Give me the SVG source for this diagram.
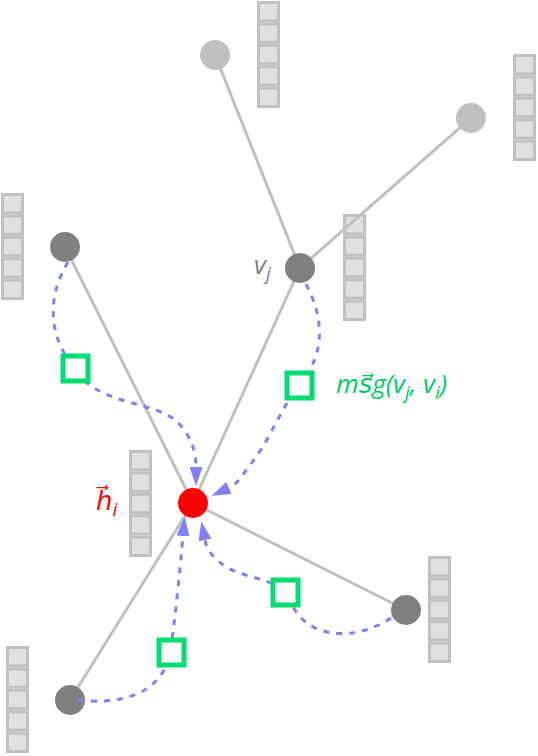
<svg xmlns="http://www.w3.org/2000/svg" width="538" height="756" viewBox="0 0 538 756">
<style>
.cell{fill:#e0e0e0;stroke:#c0c0c0;stroke-width:3}
.edge{stroke:#c0c0c0;stroke-width:3;fill:none}
.msg{stroke:#8080ff;stroke-width:3;fill:none;stroke-dasharray:6 7;marker-end:url(#ah)}
.sq{fill:#ffffff;stroke:#00dd70;stroke-width:5}
.far{fill:#c0c0c0}
.near{fill:#808080}
.lbl{font-family:"Open Sans","DejaVu Sans",sans-serif;font-style:italic;font-size:26px}
.sub{font-size:19px}
</style>
<defs>
<marker id="ah" markerUnits="userSpaceOnUse" viewBox="0 0 19 13" refX="0" refY="6.5" markerWidth="19" markerHeight="13" orient="auto">
<path d="M0,0 L19,6.5 L0,13 z" fill="#8080ff"/>
</marker>
<g id="vec">
<rect class="cell" x="1.5" y="1.5" width="20" height="18.4"/>
<rect class="cell" x="1.5" y="22.9" width="20" height="18.4"/>
<rect class="cell" x="1.5" y="44.3" width="20" height="18.4"/>
<rect class="cell" x="1.5" y="65.7" width="20" height="18.4"/>
<rect class="cell" x="1.5" y="87.1" width="20" height="18.4"/>
</g>
</defs>
<g id="vectors">
<use href="#vec" x="257" y="1"/>
<use href="#vec" x="513" y="54"/>
<use href="#vec" x="343" y="214"/>
<use href="#vec" x="1" y="193"/>
<use href="#vec" x="129" y="450"/>
<use href="#vec" x="428" y="556"/>
<use href="#vec" x="6" y="646"/>
</g>
<g id="connectors">
<line class="edge" x1="300" y1="268" x2="215" y2="55"/>
<line class="edge" x1="300" y1="268" x2="471" y2="118"/>
<line class="edge" x1="193" y1="503" x2="300" y2="268"/>
<line class="edge" x1="193" y1="503" x2="65" y2="247"/>
<line class="edge" x1="193" y1="503" x2="406" y2="610"/>
<line class="edge" x1="193" y1="503" x2="70" y2="700"/>
</g>
<g id="node-top"><circle class="far" cx="215" cy="55" r="15"/></g>
<g id="node-right"><circle class="far" cx="471" cy="118" r="15"/></g>
<g id="node-vj"><circle class="near" cx="300" cy="268" r="15"/><text class="lbl" x="254" y="274" fill="#808080">v<tspan class="sub" dy="6">j</tspan></text></g>
<g id="node-left"><circle class="near" cx="65" cy="247" r="15"/></g>
<g id="node-br"><circle class="near" cx="406" cy="610" r="15"/></g>
<g id="node-bl"><circle class="near" cx="70" cy="700" r="15"/></g>
<g id="messages">
<path class="msg" d="M68,262 C45,300 50,340 75,368 C95,405 150,400 175,420 C190,433 196,450 196,467"/>
<path class="msg" d="M306,284 C325,320 325,355 299,385 C280,410 270,440 250,465 C242,475 238,484 229,488"/>
<path class="msg" d="M391,618 C355,642 305,640 290,600 C280,578 250,580 228,568 C214,560 207,550 205,540"/>
<path class="msg" d="M78,700 C120,705 160,695 170,655 C175,620 180,570 183,536"/>
</g>
<g id="node-hi"><circle cx="193" cy="503" r="15" fill="#ff0000"/><text class="lbl" x="96" y="510" fill="#ff0000">h⃗<tspan class="sub" dy="6">i</tspan></text></g>
<g id="squares">
<rect class="sq" x="63" y="356" width="25" height="25"/>
<rect class="sq" x="287" y="373" width="25" height="25"/>
<rect class="sq" x="273" y="580" width="25" height="25"/>
<rect class="sq" x="159" y="640" width="25" height="25"/>
<text class="lbl" x="336" y="393" fill="#00cc66">ms⃗g(v<tspan class="sub" dy="6">j</tspan><tspan dy="-6">, v</tspan><tspan class="sub" dy="6">i</tspan><tspan dy="-6">)</tspan></text>
</g>
</svg>
